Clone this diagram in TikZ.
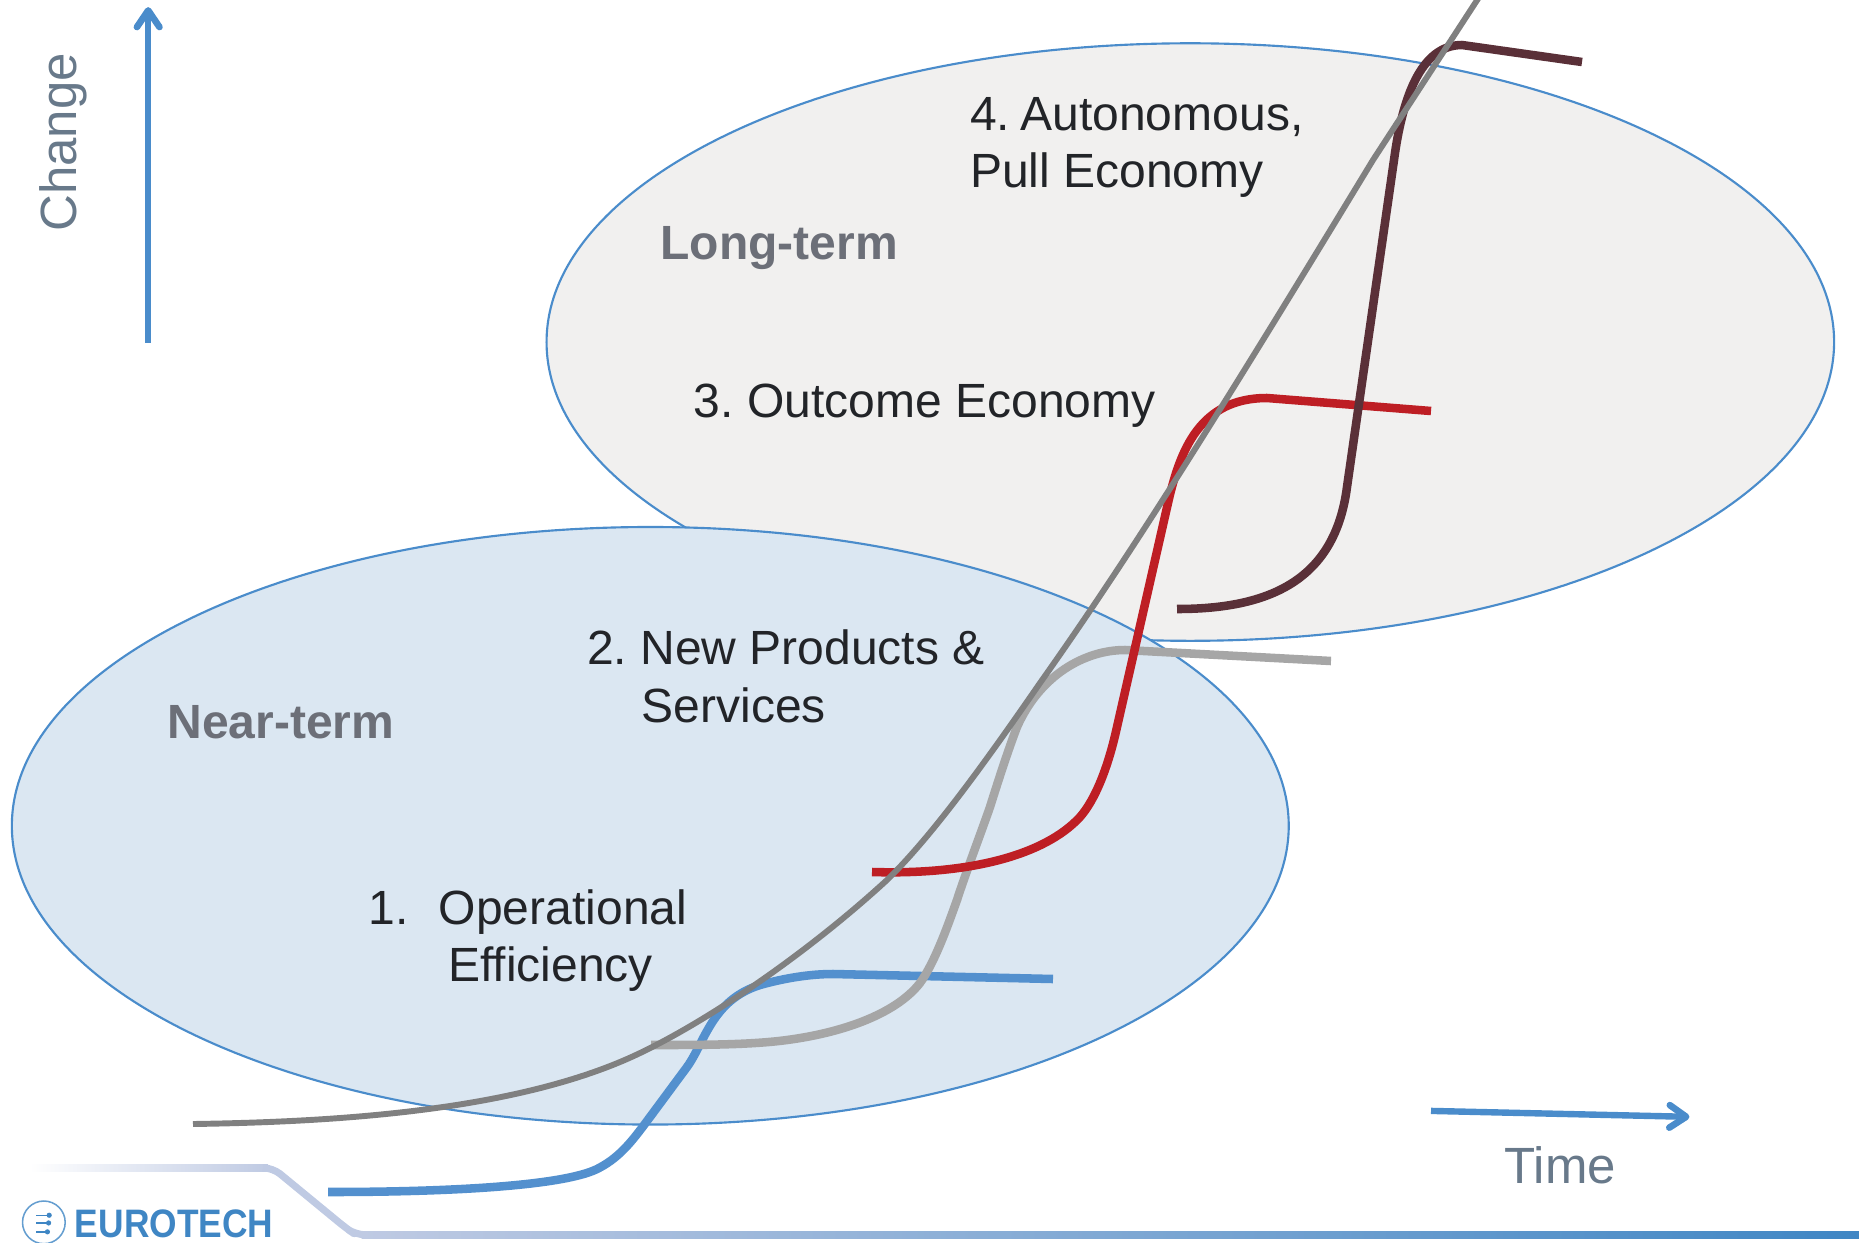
\documentclass[tikz,border=0pt]{standalone}
\usepackage{fontspec}
\setmainfont{Liberation Sans}
\usetikzlibrary{arrows.meta}
\definecolor{ablue}{HTML}{4A8CCB}
\definecolor{longfill}{HTML}{F1F0EF}
\definecolor{nearfill}{HTML}{DBE7F2}
\definecolor{slate}{HTML}{68798A}
\definecolor{termgray}{HTML}{6C6F78}
\definecolor{bodytext}{HTML}{222428}
\definecolor{bigcurve}{HTML}{808080}
\definecolor{lightcurve}{HTML}{A6A6A6}
\definecolor{redcurve}{HTML}{BE1E24}
\definecolor{darkcurve}{HTML}{5A3038}
\definecolor{bluecurve}{HTML}{5390CE}
\definecolor{logoblue}{HTML}{3F86C4}
\definecolor{stripe}{HTML}{BFCAE3}
\tikzset{
  x=1pt,y=-1pt,
  region/.style={draw=ablue,line width=1.8pt},
  scurve/.style={line width=7.2pt,line join=round},
  axisarrow/.style={draw=ablue,line width=5.4pt,-{Straight Barb[length=14pt,width=19pt,line width=5.6pt,round]}},
  bodylabel/.style={font=\fontsize{40.5}{48}\selectfont,text=bodytext,anchor=base west,inner sep=0pt},
  termlabel/.style={font=\fontsize{40.5}{48}\selectfont\bfseries,text=termgray,anchor=base west,inner sep=0pt},
  axislabel/.style={font=\fontsize{43}{48}\selectfont,text=slate,inner sep=0pt},
}
\frenchspacing
\begin{document}
\begin{tikzpicture}
\useasboundingbox (0,0) rectangle (1568,1047.6);
% regions
\path[region,fill=longfill] (1004,288.5) ellipse [x radius=543,y radius=252];
\path[region,fill=nearfill] (548.5,696.5) ellipse [x radius=538.5,y radius=252];
% footer
\shade[left color=white,right color=stripe,draw=none] (25,982) rectangle (226,988);
\path[draw=stripe,line width=6pt,line join=round,rounded corners=8pt] (222,985) -- (230,985) -- (292,1036) -- (300,1041.5) -- (310,1041.5);
\shade[left color=stripe,right color=logoblue,draw=none] (305,1038.3) rectangle (1568,1044.7);
% logo
\node[circle,draw=logoblue!80!white,line width=1.3pt,minimum size=36pt,inner sep=0pt] (logoring) at (37,1031) {};
\foreach \yy/\xx in {1025/41.5,1031.5/41,1039/40}{
  \draw[logoblue,line width=1.2pt] (30.5,\yy) -- (\xx,\yy);
  \fill[logoblue] (\xx,\yy) circle [radius=2.2pt];}
\node[font=\fontsize{33.5}{36}\selectfont\bfseries,text=logoblue,anchor=base west,inner sep=0pt,xscale=.89] (logotext) at (63,1044) {EUROTECH};
% curves, in the coordinates of the full-size reference
\begin{scope}[x=0.84346pt,y=-0.84346pt]
\draw[scurve,draw=bluecurve] (328,1192) .. controls (470,1192) and (570,1184) .. (599,1168)
  .. controls (622,1156) and (635,1137) .. (650,1117) -- (687,1067)
  .. controls (705,1042) and (712,1000) .. (760,985)
  .. controls (785,978) and (810,974) .. (833,974) -- (1053,979);
\draw[scurve,draw=lightcurve] (651,1045) .. controls (700,1045) and (750,1045) .. (787,1040)
  .. controls (840,1033) and (895,1015) .. (920,983) .. controls (935,962) and (948,925) .. (957,900)
  .. controls (965,875) and (982,830) .. (990,807)
  .. controls (1000,775) and (1010,745) .. (1017,727) .. controls (1040,675) and (1085,650) .. (1125,650) -- (1331,661);
\draw[scurve,draw=redcurve] (872,872) .. controls (970,875) and (1045,855) .. (1080,817)
  .. controls (1095,800) and (1108,768) .. (1117,727) -- (1168,503)
  .. controls (1180,450) and (1200,398) .. (1267,398) -- (1431,411);
\draw[scurve,draw=darkcurve] (1177,609) .. controls (1270,609) and (1335,580) .. (1347,487) -- (1394,160)
  .. controls (1402,100) and (1420,45) .. (1462,45) -- (1582,62);
\draw[scurve,draw=bigcurve,line width=5pt] (193,1124) .. controls (330,1122) and (500,1112) .. (620,1062)
  .. controls (690,1033) and (800,960) .. (887,880) .. controls (930,838) and (980,770) .. (1040,683)
  .. controls (1120,570) and (1200,445) .. (1373,160) -- (1485,-12);
\end{scope}
% axes
\coordinate (changefoot) at (125,289);
\coordinate (changetip) at (125,6);
\coordinate (timefoot) at (1207,937);
\coordinate (timetip) at (1425,942);
\draw[axisarrow] (changefoot) -- (changetip);
\draw[axisarrow] (timefoot) -- (timetip);
\node[axislabel,rotate=90] (change) at (53,120) {Change};
\node[axislabel] (time) at (1316,983) {Time};
% labels
\node[termlabel] (longterm) at (557,219) {Long-term};
\node[termlabel] (nearterm) at (141,623) {Near-term};
\node[bodylabel] (l4a) at (818,110) {4.\hspace{-2.5pt} Autonomous,};
\node[bodylabel] (l4b) at (818,158) {Pull Economy};
\node[bodylabel] (l3) at (585,352) {3. Outcome Economy};
\node[bodylabel] (l2a) at (495,560.5) {2. New Products \&};
\node[bodylabel] (l2b) at (541,609) {Services};
\node[bodylabel] (l1n) at (311,780) {1.};
\node[bodylabel] (l1a) at (370,780) {Operational};
\node[bodylabel] (l1b) at (378,828) {Efficiency};
\end{tikzpicture}
\end{document}
